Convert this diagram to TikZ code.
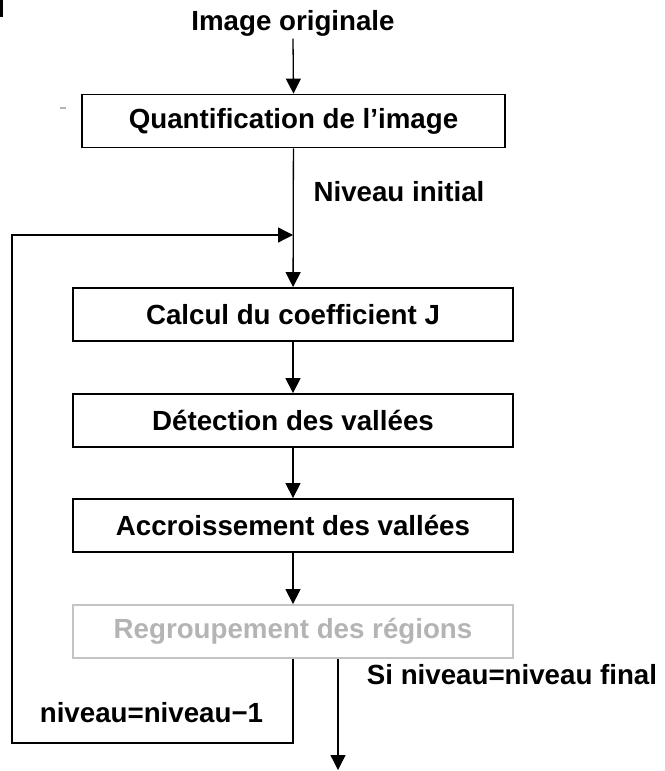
\documentclass[tikz,border=0pt]{standalone}
\usepackage{fontspec}
\setmainfont{Liberation Sans}
\usetikzlibrary{arrows.meta,positioning,calc}
\definecolor{cInk}{HTML}{000000}
\definecolor{cFade}{HTML}{B4B4B4}
\definecolor{cFadeLine}{HTML}{C4C4C4}
\tikzset{
  every picture/.style={line width=1.3pt},
  txt/.style={font=\fontsize{27.7}{33}\selectfont\bfseries, text=cInk, inner sep=2pt},
  stepbox/.style={txt, draw=cInk, line width=1.8pt, fill=white,
                  minimum width=440pt, minimum height=53pt, inner sep=0pt},
  fadebox/.style={stepbox, draw=cFadeLine, text=cFade},
  flow/.style={-{Triangle[length=15pt,width=15pt]}, draw=cInk},
}

\begin{document}
\begin{tikzpicture}[x=1pt,y=-1pt]
\useasboundingbox (0,0) rectangle (664,771);

% ---------------------------------------------------------------- stray marks
\fill[cInk] (0,0) rectangle (3,17);
\fill[cFade] (60,107) rectangle (66,108.5);

% ---------------------------------------------------------------- the steps
\node[txt] (orig) at (293,23) {Image originale};
\node[stepbox, minimum width=423pt] (quant) at (293.5,121) {Quantification de l’image};
\node[stepbox] (calc) at (293,314.5) {Calcul du coefficient J};
\node[stepbox] (detect) at (293,420.5) {Détection des vallées};
\node[stepbox] (accr) at (293,525.5) {Accroissement des vallées};
\node[fadebox] (regr) at (293,631.5) {Regroupement des régions};

\coordinate (join) at (293,235);
\coordinate (loopbl) at (12,743);
\coordinate (out) at (338,770);

% ---------------------------------------------------------------- the flow
\draw[flow] (orig.south) -- (quant.north);
\draw[flow] (quant) -- (calc);
\draw[flow] (calc) -- (detect);
\draw[flow] (detect) -- (accr);
\draw[flow] (accr) -- (regr);
\draw[flow] (regr.south) |- (loopbl) |- (join);
\draw[flow] (regr.south -| out) -- (out);

% ---------------------------------------------------------------- labels
\node[txt] (init) at (399,192) {Niveau initial};
\node[txt] (dec) at (151.5,713) {niveau=niveau−1};
\node[txt] (fin) at (512,675) {Si niveau=niveau final};

\end{tikzpicture}
\end{document}
